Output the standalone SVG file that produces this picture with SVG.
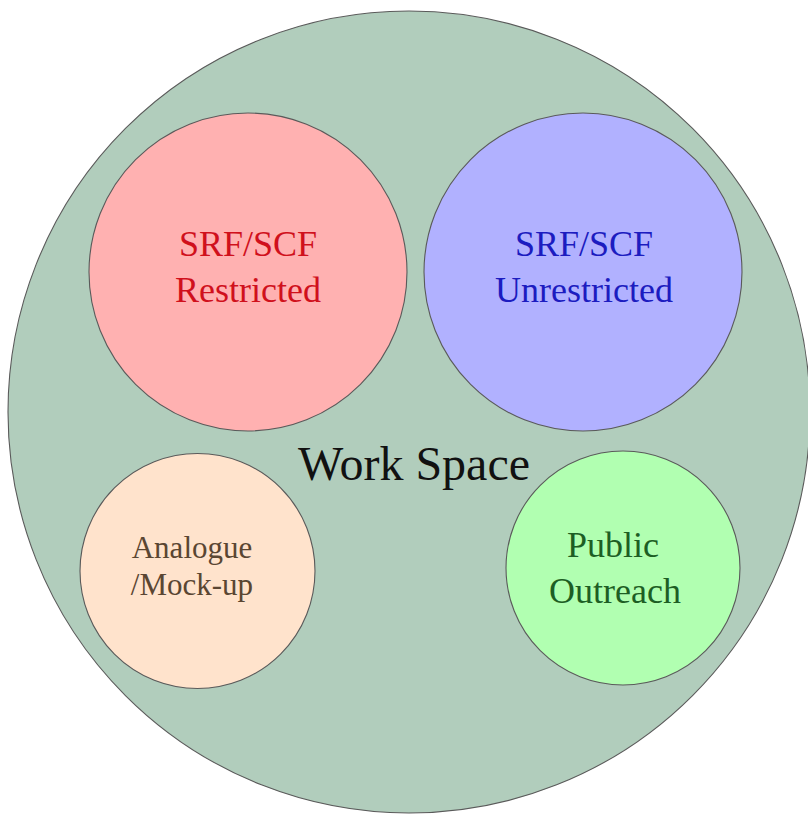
<svg xmlns="http://www.w3.org/2000/svg" width="808" height="814" viewBox="0 0 808 814">
<style>
.c{stroke:#5a5a5a;stroke-width:1.1}
.t{font-family:"Liberation Serif","Times New Roman",serif;text-anchor:middle}
</style>
<rect width="808" height="814" fill="#ffffff"/>
<g id="workspace">
<circle class="c" cx="409" cy="412" r="401" fill="#b1cdbc"/>
<text class="t" x="414" y="480" font-size="48" fill="#111111">Work Space</text>
</g>
<g id="restricted">
<circle class="c" cx="248" cy="272" r="159" fill="#ffb1b1"/>
<text class="t" x="248" y="256" font-size="36" fill="#d0101c">SRF/SCF</text>
<text class="t" x="248" y="302" font-size="36" fill="#d0101c">Restricted</text>
</g>
<g id="unrestricted">
<circle class="c" cx="583" cy="272" r="159" fill="#b1b1ff"/>
<text class="t" x="584" y="256" font-size="36" fill="#1c1cc0">SRF/SCF</text>
<text class="t" x="584" y="302" font-size="36" fill="#1c1cc0">Unrestricted</text>
</g>
<g id="analogue">
<circle class="c" cx="197.5" cy="571" r="117.5" fill="#ffe3cc"/>
<text class="t" x="192" y="558" font-size="31" fill="#5a4632">Analogue</text>
<text class="t" x="192" y="595" font-size="31" fill="#5a4632">/Mock-up</text>
</g>
<g id="outreach">
<circle class="c" cx="623" cy="568" r="117" fill="#b1ffb1"/>
<text class="t" x="613" y="557" font-size="36" fill="#1d5e24">Public</text>
<text class="t" x="615" y="603" font-size="36" fill="#1d5e24">Outreach</text>
</g>
<g id="connectors"></g>
</svg>
